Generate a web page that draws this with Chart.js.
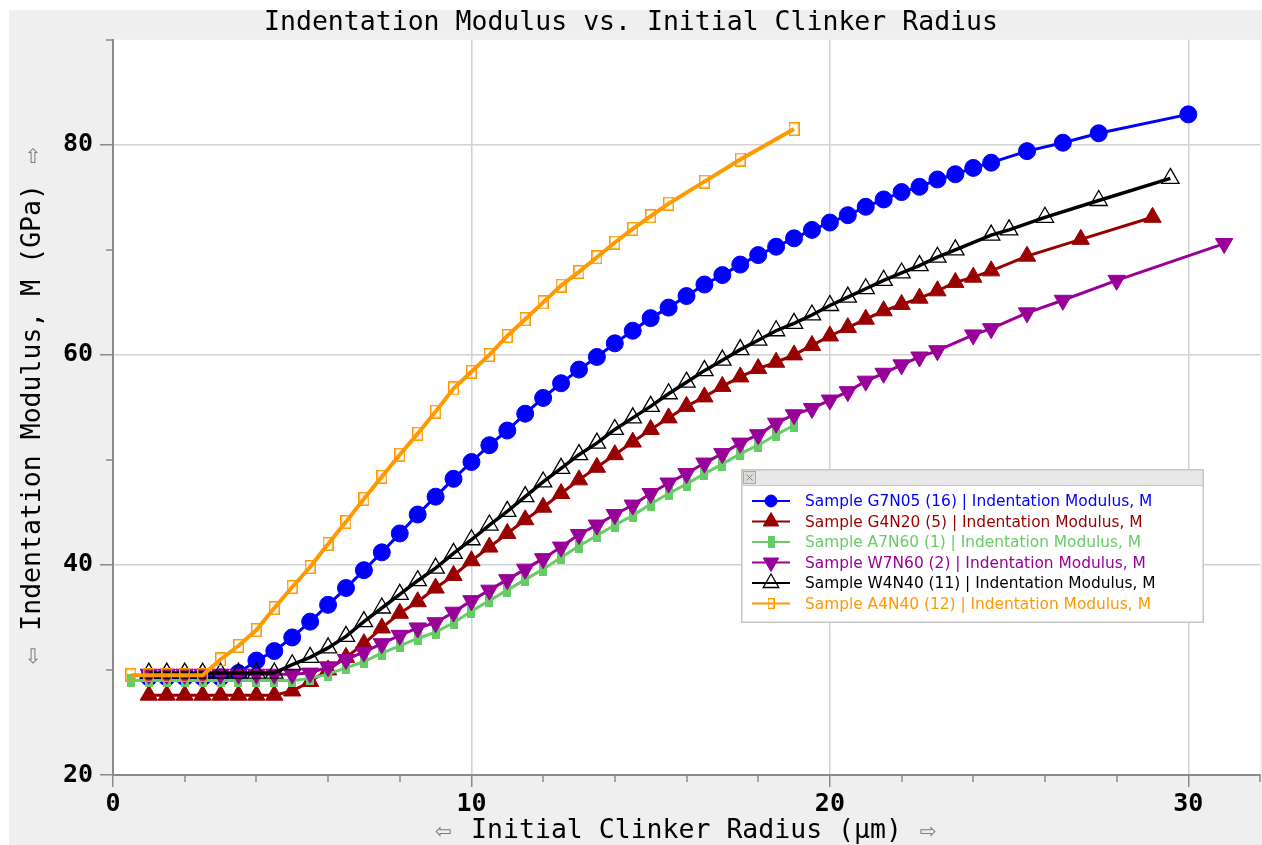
<!DOCTYPE html>
<html>
<head>
<meta charset="utf-8">
<title>Indentation Modulus vs. Initial Clinker Radius</title>
<script src="https://cdn.jsdelivr.net/npm/chart.js@4.4.1/dist/chart.umd.min.js"></script>
<style>
  html, body { margin: 0; padding: 0; background: #fff; overflow: hidden; }
  #wrap { width: 1262px; height: 845px; position: relative; }
</style>
</head>
<body>
<div id="wrap"><canvas id="modulusChart"></canvas></div>
<script>
// radius (µm) and modulus (GPa) per sample
const g7n05X = [1, 1.5, 2, 2.5, 3, 3.5, 4, 4.5, 5, 5.5,
                6, 6.5, 7, 7.5, 8, 8.5, 9, 9.5, 10, 10.5,
                11, 11.5, 12, 12.5, 13, 13.5, 14, 14.5, 15, 15.5,
                16, 16.5, 17, 17.5, 18, 18.5, 19, 19.5, 20, 20.5,
                21, 21.5, 22, 22.5, 23, 23.5, 24, 24.5, 25.5, 26.5,
                27.5, 30];
const g7n05Y = [29.3, 29.3, 29.3, 29.3, 29.3, 29.7, 30.9, 31.8, 33.1, 34.6,
                36.2, 37.8, 39.5, 41.2, 43.0, 44.8, 46.5, 48.2, 49.8, 51.4,
                52.8, 54.4, 55.9, 57.3, 58.6, 59.8, 61.1, 62.3, 63.5, 64.5,
                65.6, 66.7, 67.6, 68.6, 69.5, 70.3, 71.1, 71.9, 72.6, 73.3,
                74.1, 74.8, 75.5, 76.0, 76.7, 77.2, 77.8, 78.3, 79.4, 80.2,
                81.1, 82.9];

const g4n20X = [1, 1.5, 2, 2.5, 3, 3.5, 4, 4.5, 5, 5.5,
                6, 6.5, 7, 7.5, 8, 8.5, 9, 9.5, 10, 10.5,
                11, 11.5, 12, 12.5, 13, 13.5, 14, 14.5, 15, 15.5,
                16, 16.5, 17, 17.5, 18, 18.5, 19, 19.5, 20, 20.5,
                21, 21.5, 22, 22.5, 23, 23.5, 24, 24.5, 25.5, 27,
                29];
const g4n20Y = [27.6, 27.6, 27.6, 27.6, 27.6, 27.6, 27.6, 27.6, 28.0, 28.9,
                30.0, 31.2, 32.5, 34.0, 35.4, 36.5, 37.8, 39.0, 40.4, 41.7,
                43.0, 44.3, 45.5, 46.8, 48.1, 49.3, 50.5, 51.7, 52.9, 54.0,
                55.1, 56.0, 57.0, 57.9, 58.7, 59.3, 60.0, 60.9, 61.8, 62.6,
                63.4, 64.2, 64.8, 65.4, 66.1, 66.9, 67.4, 68.0, 69.4, 71.0,
                73.1];

const a7n60X = [0.5, 1, 1.5, 2, 2.5, 3, 3.5, 4, 4.5, 5,
                5.5, 6, 6.5, 7, 7.5, 8, 8.5, 9, 9.5, 10,
                10.5, 11, 11.5, 12, 12.5, 13, 13.5, 14, 14.5, 15,
                15.5, 16, 16.5, 17, 17.5, 18, 18.5, 19];
const a7n60Y = [29.0, 29.0, 29.0, 29.0, 29.0, 29.0, 29.0, 29.0, 29.0, 29.0,
                29.2, 29.6, 30.2, 30.8, 31.6, 32.3, 33.0, 33.6, 34.5, 35.6,
                36.6, 37.6, 38.6, 39.6, 40.7, 41.8, 42.8, 43.8, 44.7, 45.8,
                46.8, 47.7, 48.7, 49.6, 50.6, 51.4, 52.4, 53.3];

const w7n60X = [1, 1.5, 2, 2.5, 3, 3.5, 4, 4.5, 5, 5.5,
                6, 6.5, 7, 7.5, 8, 8.5, 9, 9.5, 10, 10.5,
                11, 11.5, 12, 12.5, 13, 13.5, 14, 14.5, 15, 15.5,
                16, 16.5, 17, 17.5, 18, 18.5, 19, 19.5, 20, 20.5,
                21, 21.5, 22, 22.5, 23, 24, 24.5, 25.5, 26.5, 28,
                31];
const w7n60Y = [29.6, 29.6, 29.6, 29.6, 29.6, 29.6, 29.6, 29.6, 29.6, 29.7,
                30.3, 31.0, 31.7, 32.5, 33.3, 34.0, 34.5, 35.5, 36.6, 37.6,
                38.6, 39.6, 40.6, 41.7, 42.9, 43.8, 44.8, 45.7, 46.8, 47.8,
                48.7, 49.7, 50.6, 51.6, 52.4, 53.5, 54.3, 54.9, 55.7, 56.5,
                57.5, 58.25, 59.05, 59.8, 60.4, 61.9, 62.5, 64.0, 65.2, 67.1,
                70.6];

const w4n40X = [1, 1.5, 2, 2.5, 3, 3.5, 4, 4.5, 5, 5.5,
                6, 6.5, 7, 7.5, 8, 8.5, 9, 9.5, 10, 10.5,
                11, 11.5, 12, 12.5, 13, 13.5, 14, 14.5, 15, 15.5,
                16, 16.5, 17, 17.5, 18, 18.5, 19, 19.5, 20, 20.5,
                21, 21.5, 22, 22.5, 23, 23.5, 24.5, 25, 26, 27.5,
                29.5];
const w4n40Y = [29.7, 29.7, 29.7, 29.7, 29.7, 29.7, 29.7, 29.7, 30.5, 31.2,
                32.1, 33.2, 34.6, 35.9, 37.2, 38.5, 39.7, 41.1, 42.4, 43.8,
                45.1, 46.5, 47.9, 49.2, 50.5, 51.6, 52.9, 54.0, 55.1, 56.3,
                57.4, 58.5, 59.5, 60.5, 61.4, 62.3, 63.0, 63.8, 64.7, 65.5,
                66.3, 67.1, 67.8, 68.5, 69.3, 70.0, 71.4, 71.9, 73.1, 74.7,
                76.8];

const a4n40X = [0.5, 1, 1.5, 2, 2.5, 3, 3.5, 4, 4.5, 5,
                5.5, 6, 6.5, 7, 7.5, 8, 8.5, 9, 9.5, 10,
                10.5, 11, 11.5, 12, 12.5, 13, 13.5, 14, 14.5, 15,
                15.5, 16.5, 17.5, 19];
const a4n40Y = [29.5, 29.5, 29.5, 29.5, 29.5, 31.0, 32.3, 33.8, 35.9, 37.9,
                39.8, 42.0, 44.1, 46.3, 48.4, 50.5, 52.5, 54.6, 56.8, 58.4,
                60.0, 61.8, 63.4, 65.0, 66.6, 67.9, 69.3, 70.7, 72.0, 73.2,
                74.4, 76.5, 78.6, 81.5];

const seriesNames = [
  'Sample G7N05 (16) | Indentation Modulus, M',
  'Sample G4N20 (5) | Indentation Modulus, M',
  'Sample A7N60 (1) | Indentation Modulus, M',
  'Sample W7N60 (2) | Indentation Modulus, M',
  'Sample W4N40 (11) | Indentation Modulus, M',
  'Sample A4N40 (12) | Indentation Modulus, M'
];

const chartTitle = 'Indentation Modulus vs. Initial Clinker Radius';
const xTitle = 'Initial Clinker Radius (µm)';
const yTitle = 'Indentation Modulus, M (GPa)';

const MONO = '"DejaVu Sans Mono", "Liberation Mono", monospace';
const SANS = '"DejaVu Sans", "Noto Sans", sans-serif';

function toPoints(xs, ys) {
  return xs.map((x, i) => ({ x: x, y: ys[i] }));
}

// little rectangle markers (tall boxes) used as point styles
function boxMarker(w, h, color, filled, lw) {
  const c = document.createElement('canvas');
  c.width = w;
  c.height = h;
  const g = c.getContext('2d');
  if (filled) {
    g.fillStyle = color;
    g.fillRect(0, 0, w, h);
  } else {
    g.strokeStyle = color;
    g.lineWidth = lw;
    g.strokeRect(lw / 2, lw / 2, w - lw, h - lw);
  }
  return c;
}

const greenBox = boxMarker(8, 13, '#66cc66', true, 0);
const orangeBox = boxMarker(11, 14, '#ff9900', false, 1.5);
const greenBoxSmall = boxMarker(7, 12, '#66cc66', true, 0);
const orangeBoxSmall = boxMarker(7, 11, '#ff9900', false, 1.3);

const datasets = [
  {
    label: seriesNames[0], data: toPoints(g7n05X, g7n05Y), order: 4,
    borderColor: '#0000ff', backgroundColor: '#0000ff', borderWidth: 3,
    pointStyle: 'circle', pointRadius: 8.5, pointBorderWidth: 1,
    legendStyle: 'circle', legendRadius: 6
  },
  {
    label: seriesNames[1], data: toPoints(g4n20X, g4n20Y), order: 5,
    borderColor: '#990000', backgroundColor: '#990000', borderWidth: 3,
    pointStyle: 'triangle', pointRadius: 10, pointBorderWidth: 1,
    legendStyle: 'triangle', legendRadius: 9
  },
  {
    label: seriesNames[2], data: toPoints(a7n60X, a7n60Y), order: 3,
    borderColor: '#66cc66', backgroundColor: '#66cc66', borderWidth: 3,
    pointStyle: greenBox, pointRadius: 6, pointBorderWidth: 0,
    legendStyle: greenBoxSmall, legendRadius: 6
  },
  {
    label: seriesNames[3], data: toPoints(w7n60X, w7n60Y), order: 2,
    borderColor: '#990099', backgroundColor: '#990099', borderWidth: 3,
    pointStyle: 'triangle', pointRotation: 180, pointRadius: 10, pointBorderWidth: 1,
    legendStyle: 'triangle', legendRotation: 180, legendRadius: 9
  },
  {
    label: seriesNames[4], data: toPoints(w4n40X, w4n40Y), order: 1,
    borderColor: '#000000', backgroundColor: 'rgba(0,0,0,0)', borderWidth: 3.5,
    pointStyle: 'triangle', pointRadius: 10, pointBorderWidth: 1.3,
    pointBackgroundColor: 'rgba(0,0,0,0)', pointBorderColor: '#000000',
    legendStyle: 'triangle', legendRadius: 9
  },
  {
    label: seriesNames[5], data: toPoints(a4n40X, a4n40Y), order: 0,
    borderColor: '#ff9900', backgroundColor: 'rgba(0,0,0,0)', borderWidth: 4,
    pointStyle: orangeBox, pointRadius: 6, pointBorderWidth: 0,
    legendStyle: orangeBoxSmall, legendRadius: 6
  }
];

// grey page with a white plotting field
const frame = {
  id: 'frame',
  beforeDraw(chart) {
    const { ctx, width, height, chartArea: a } = chart;
    ctx.save();
    ctx.fillStyle = '#ffffff';
    ctx.fillRect(0, 0, width, height);
    ctx.fillStyle = '#efefef';
    ctx.fillRect(9, 10, width - 9, height - 10);
    ctx.fillStyle = '#ffffff';
    ctx.fillRect(a.left, a.top, a.right - a.left, a.bottom - a.top);
    ctx.restore();
  }
};

// short ticks between the labelled ones
const minorTicks = {
  id: 'minorTicks',
  afterDraw(chart) {
    const { ctx, chartArea: a } = chart;
    const xs = chart.scales.x, ys = chart.scales.y;
    ctx.save();
    ctx.strokeStyle = '#8a8a8a';
    ctx.lineWidth = 1.5;
    ctx.beginPath();
    xs.ticks.forEach(t => {
      if (t.value % 10 !== 0) {
        const px = Math.round(xs.getPixelForValue(t.value));
        ctx.moveTo(px, a.bottom);
        ctx.lineTo(px, a.bottom + 7);
      }
    });
    ys.ticks.forEach(t => {
      if (t.value % 20 !== 0) {
        const py = Math.round(ys.getPixelForValue(t.value));
        ctx.moveTo(a.left - 7, py);
        ctx.lineTo(a.left, py);
      }
    });
    ctx.stroke();
    ctx.restore();
  }
};

// outlined arrows either side of the axis titles
const axisArrows = {
  id: 'axisArrows',
  afterDraw(chart) {
    const { ctx, chartArea: a } = chart;
    ctx.save();
    ctx.font = '26.5px ' + MONO;
    const wx = ctx.measureText(xTitle).width;
    const wy = ctx.measureText(yTitle).width;
    ctx.font = '20px ' + SANS;
    ctx.fillStyle = '#7a7a7a';
    ctx.textAlign = 'center';
    ctx.textBaseline = 'middle';
    const cx = (a.left + a.right) / 2;
    const cy = (a.top + a.bottom) / 2;
    ctx.fillText('\u21E6', cx - wx / 2 - 28, 833);
    ctx.fillText('\u21E8', cx + wx / 2 + 26, 833);
    ctx.fillText('\u21E7', 33, cy - wy / 2 - 26);
    ctx.fillText('\u21E9', 33, cy + wy / 2 + 27);
    ctx.restore();
  }
};

// floating legend panel with its small title bar
const legendPanel = {
  id: 'legendPanel',
  afterDraw(chart) {
    const ctx = chart.ctx;
    const box = { x: 741, y: 469, w: 463, h: 154 };
    ctx.save();
    ctx.fillStyle = '#ffffff';
    ctx.fillRect(box.x, box.y, box.w, box.h);
    ctx.fillStyle = '#e8e8e8';
    ctx.fillRect(box.x, box.y, box.w, 16);
    ctx.strokeStyle = '#c6c6c6';
    ctx.lineWidth = 1;
    ctx.beginPath();
    ctx.moveTo(box.x, box.y + 16.5);
    ctx.lineTo(box.x + box.w, box.y + 16.5);
    ctx.stroke();
    ctx.lineWidth = 1.5;
    ctx.strokeRect(box.x + 0.75, box.y + 0.75, box.w - 1.5, box.h - 1.5);

    // close button
    ctx.fillStyle = '#dcdcd2';
    ctx.fillRect(box.x + 2, box.y + 2, 13, 13);
    ctx.strokeStyle = '#a8a8a8';
    ctx.lineWidth = 1;
    ctx.strokeRect(box.x + 2.5, box.y + 2.5, 12, 12);
    ctx.strokeStyle = '#888888';
    ctx.beginPath();
    ctx.moveTo(box.x + 5.5, box.y + 5.5);
    ctx.lineTo(box.x + 11.5, box.y + 11.5);
    ctx.moveTo(box.x + 11.5, box.y + 5.5);
    ctx.lineTo(box.x + 5.5, box.y + 11.5);
    ctx.stroke();

    ctx.font = '15.4px ' + SANS;
    ctx.textBaseline = 'middle';
    ctx.textAlign = 'left';
    chart.data.datasets.forEach((ds, i) => {
      const y = box.y + 32 + i * 20.5;
      ctx.strokeStyle = ds.borderColor;
      ctx.lineWidth = 2;
      ctx.beginPath();
      ctx.moveTo(752, y);
      ctx.lineTo(790, y);
      ctx.stroke();
      ctx.fillStyle = ds.pointBackgroundColor || ds.backgroundColor;
      ctx.strokeStyle = ds.pointBorderColor || ds.borderColor;
      ctx.lineWidth = ds.pointBorderWidth || 1;
      Chart.helpers.drawPoint(ctx, {
        pointStyle: ds.legendStyle,
        rotation: ds.legendRotation || 0,
        radius: ds.legendRadius,
        borderWidth: ds.pointBorderWidth || 0
      }, 771, y);
      ctx.fillStyle = ds.borderColor;
      ctx.fillText(ds.label, 805, y + 1);
    });
    ctx.restore();
  }
};

new Chart(document.getElementById('modulusChart'), {
  type: 'line',
  data: { datasets: datasets },
  options: {
    responsive: true,
    maintainAspectRatio: false,
    animation: false,
    devicePixelRatio: 1,
    layout: { padding: 0, autoPadding: false },
    elements: { line: { tension: 0 } },
    plugins: {
      legend: { display: false },
      tooltip: { enabled: false },
      title: {
        display: true,
        text: chartTitle,
        color: '#000000',
        font: { family: MONO, size: 26.5, weight: 'normal' },
        padding: { top: 7, bottom: 1 }
      }
    },
    scales: {
      x: {
        type: 'linear',
        min: 0,
        max: 32,
        afterFit(scale) { scale.height = 70; },
        border: { color: '#8a8a8a', width: 2 },
        grid: {
          color: c => (c.tick && c.tick.value > 0 && c.tick.value % 10 === 0) ? '#d2d2d2' : 'rgba(0,0,0,0)',
          tickColor: c => (c.tick && c.tick.value % 10 === 0) ? '#8a8a8a' : 'rgba(0,0,0,0)',
          tickLength: 12,
          lineWidth: 1.5
        },
        ticks: {
          stepSize: 2,
          autoSkip: false,
          maxRotation: 0,
          padding: 2,
          color: '#000000',
          font: { family: MONO, size: 25, weight: 'bold' },
          callback: v => (v % 10 === 0 ? v : '')
        },
        title: {
          display: true,
          text: xTitle,
          color: '#000000',
          font: { family: MONO, size: 26.5, weight: 'normal' },
          padding: { top: 0, bottom: -2 }
        }
      },
      y: {
        type: 'linear',
        min: 20,
        max: 90,
        afterFit(scale) { scale.width = 113; },
        border: { color: '#8a8a8a', width: 2 },
        grid: {
          color: c => (c.tick && c.tick.value > 20 && c.tick.value < 90 && c.tick.value % 20 === 0) ? '#d2d2d2' : 'rgba(0,0,0,0)',
          tickColor: c => (c.tick && c.tick.value % 20 === 0) ? '#8a8a8a' : 'rgba(0,0,0,0)',
          tickLength: 13,
          lineWidth: 1.5
        },
        ticks: {
          stepSize: 10,
          autoSkip: false,
          padding: 7,
          color: '#000000',
          font: { family: MONO, size: 25, weight: 'bold' },
          callback: v => (v % 20 === 0 ? v : '')
        },
        title: {
          display: true,
          text: yTitle,
          color: '#000000',
          font: { family: MONO, size: 26.5, weight: 'normal' },
          padding: { top: 17, bottom: 0 }
        }
      }
    }
  },
  plugins: [frame, minorTicks, axisArrows, legendPanel]
});
</script>
</body>
</html>
